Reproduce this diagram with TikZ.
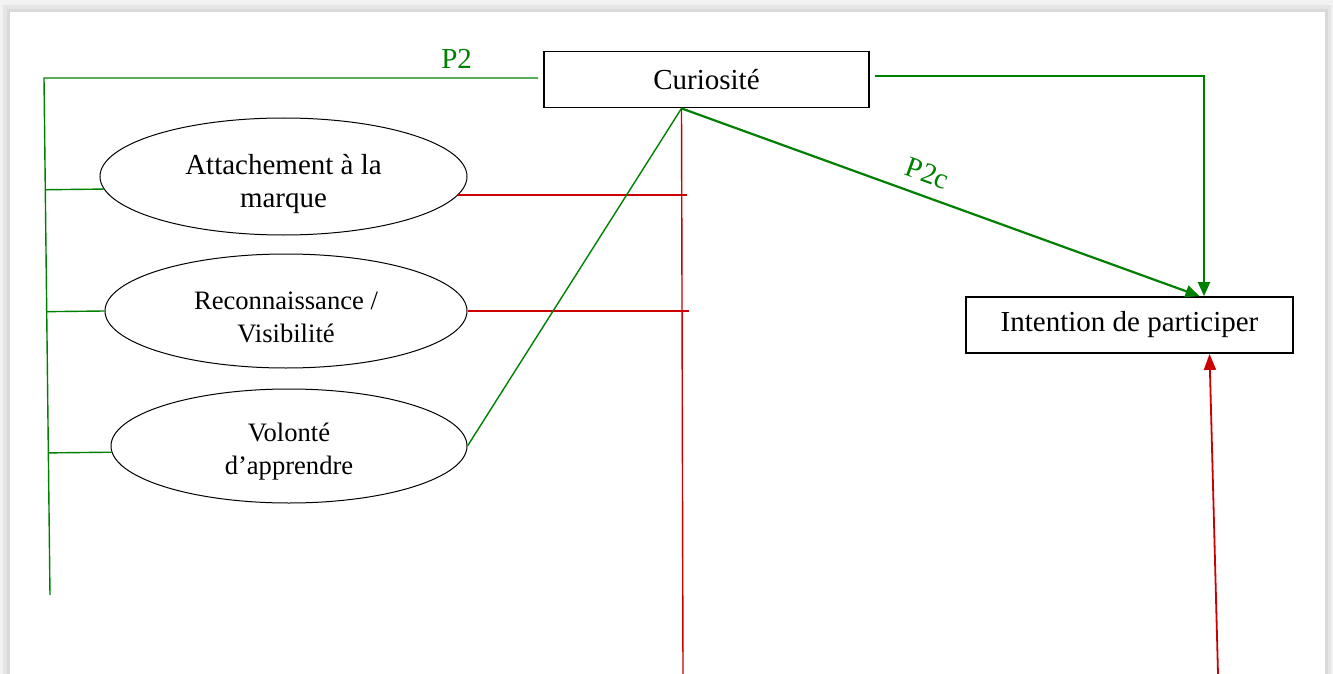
\documentclass[tikz,border=0pt]{standalone}
\usepackage{fontspec}
\setmainfont{Liberation Serif}
\usetikzlibrary{shapes.geometric, arrows.meta, calc}
\definecolor{pgreen}{RGB}{0,128,0}
\definecolor{pred}{RGB}{204,0,0}

\begin{document}
\begin{tikzpicture}[x=0.5pt,y=-0.5pt,
    box/.style={draw,line width=0.9pt,minimum width=162.5pt,minimum height=28pt,inner sep=0pt,font=\fontsize{14.5}{16.5}\selectfont},
    oval/.style={ellipse,draw,line width=0.5pt,inner sep=0pt},
    ovaltext/.style={align=center,inner sep=0pt,yshift=-3pt,font=\fontsize{13.3}{16.5}\selectfont},
    gline/.style={pgreen,line width=0.7pt},
    garrow/.style={pgreen,line width=1.1pt,-{Triangle[length=7pt,width=6pt]}},
    rline/.style={pred,line width=0.7pt},
    rarrow/.style={pred,line width=0.9pt,-{Triangle[length=8pt,width=6pt]}},
    lab/.style={pgreen,font=\fontsize{14.5}{16.5}\selectfont}]
    \useasboundingbox (0,0) rectangle (1333,674);
    % page shadow
    \fill[gray!10] (0,0) rectangle (1333,674);
    \fill[gray!20] (3,5) rectangle (1331,674);
    \fill[gray!30] (7,9) rectangle (1328,674);
    \fill[white] (10,12) rectangle (1325,674);

    \node[box] (cur) at (706.5,79.5) {Curiosit\'e};
    \node[box,minimum width=163.5pt] (intent) at (1129.5,325) {Intention de participer};
    \node[oval,minimum width=183.5pt,minimum height=58.5pt,
      label={[ovaltext,font=\fontsize{14.5}{16.5}\selectfont,yshift=-1pt]center:Attachement \`a la\\marque}] (attach) at (283.5,176.5) {};
    \node[oval,minimum width=181pt,minimum height=57pt,
      label={[ovaltext]center:Reconnaissance /\\Visibilit\'e}] (recon) at (286,311) {};
    \node[oval,minimum width=178pt,minimum height=57pt,
      label={[ovaltext]center:Volont\'e\\d'apprendre}] (volon) at (289,446) {};

    \coordinate (tl) at (44,78);
    \coordinate (bl) at (50,595);
    \coordinate (ctop) at ([xshift=-12.5pt]cur.south);
    \coordinate (rb) at (683,674);
    \coordinate (rb2) at (1218,674);

    \draw[gline] ([xshift=-2.5pt,yshift=0.75pt]cur.west) -- node[lab,pos=0.165,above,inner sep=4.5pt] {P2} (tl) -- (bl);
    \draw[gline] (attach.184) -- ($(tl)!(attach.184)!(bl)$);
    \draw[gline] (recon.west) -- ($(tl)!(recon.west)!(bl)$);
    \draw[gline] (volon.182) -- ($(tl)!(volon.182)!(bl)$);

    \draw[rline] (ctop) -- (rb);
    \draw[rline] (attach.354) -- ($(attach.354 -| ctop)+(5,0)$);
    \draw[rline] (recon.east) -- ($(recon.east -| ctop)+(7,0)$);
    \draw[gline] (ctop) -- (volon.east);

    \draw[garrow] (ctop) -- node[lab,pos=0.46,sloped,above,inner sep=6pt] {P2c} ([xshift=35pt]intent.north);
    \draw[garrow] ([xshift=2.5pt,yshift=1.75pt]cur.east) -| ([xshift=37.25pt]intent.north);
    \draw[rarrow] (rb2) -- ([xshift=40pt]intent.south);
\end{tikzpicture}
\end{document}
